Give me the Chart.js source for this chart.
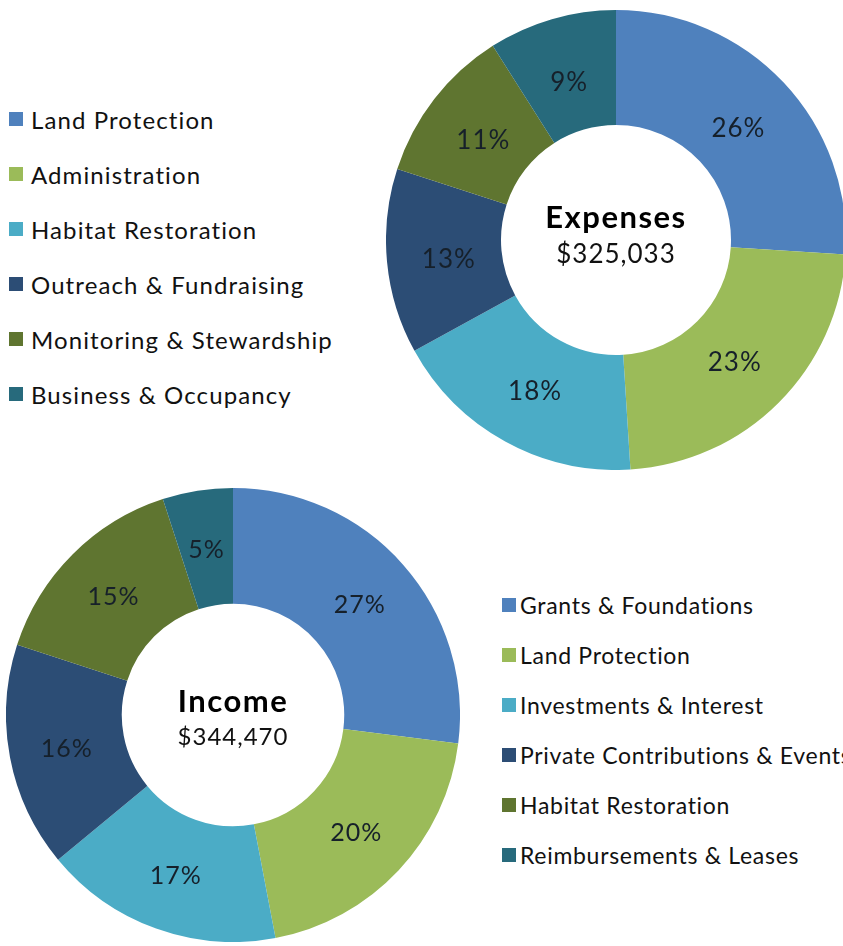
<!DOCTYPE html>
<html>
<head>
<meta charset="utf-8">
<script src="https://cdn.jsdelivr.net/npm/chart.js@4.4.1/dist/chart.umd.min.js"></script>
<style>
  html, body { margin:0; padding:0; width:843px; height:946px; overflow:hidden; background:#fff; }
  body { position:relative; font-family: Lato, "Open Sans", sans-serif; color:#111; }
  .box { position:absolute; }
  .legend { position:absolute; }
  .item { position:absolute; white-space:nowrap; display:flex; align-items:center; }
  .sw { display:inline-block; flex:none; }
</style>
</head>
<body>
<div class="box" id="expBox" style="left:386px;top:10px;width:460px;height:460px;"><canvas id="exp"></canvas></div>
<div class="box" id="incBox" style="left:6px;top:488px;width:454px;height:454px;"><canvas id="inc"></canvas></div>
<div class="legend" id="expLegend"></div>
<div class="legend" id="incLegend"></div>
<script>
// ---- data ----
const expenseCategories = ["Land Protection", "Administration", "Habitat Restoration", "Outreach & Fundraising", "Monitoring & Stewardship", "Business & Occupancy"];
const expenseValues = [26, 23, 18, 13, 11, 9];
const expenseTitle = "Expenses";
const expenseTotal = "$325,033";

const incomeCategories = ["Grants & Foundations", "Land Protection", "Investments & Interest", "Private Contributions & Events", "Habitat Restoration", "Reimbursements & Leases"];
const incomeValues = [27, 20, 17, 16, 15, 5];
const incomeTitle = "Income";
const incomeTotal = "$344,470";

const palette = ["#4F81BD", "#9BBB59", "#4BACC6", "#2C4D75", "#5F7530", "#276A7C"];

const FONT = "Lato, 'Open Sans', sans-serif";

// ---- plugins ----
const sliceLabels = {
  id: 'sliceLabels',
  afterDatasetsDraw(chart, args, opts) {
    const ctx = chart.ctx;
    const meta = chart.getDatasetMeta(0);
    const data = chart.data.datasets[0].data;
    ctx.save();
    ctx.font = opts.size + "px " + FONT;
    ctx.letterSpacing = opts.spacing + "px";
    ctx.fillStyle = "#16202a";
    ctx.textAlign = "center";
    ctx.textBaseline = "middle";
    meta.data.forEach((arc, i) => {
      const p = arc.getProps(['x','y','startAngle','endAngle','innerRadius','outerRadius'], true);
      const a = (p.startAngle + p.endAngle) / 2;
      const r = p.innerRadius + (p.outerRadius - p.innerRadius) * opts.frac;
      ctx.fillText(data[i] + "%", p.x + Math.cos(a) * r, p.y + Math.sin(a) * r + opts.dy);
    });
    ctx.restore();
  }
};
const centerText = {
  id: 'centerText',
  afterDraw(chart, args, opts) {
    const ctx = chart.ctx;
    const meta = chart.getDatasetMeta(0);
    const arc = meta.data[0];
    const cx = arc.x, cy = arc.y;
    ctx.save();
    ctx.textAlign = "center";
    ctx.textBaseline = "alphabetic";
    ctx.fillStyle = "#000";
    ctx.letterSpacing = "1.5px";
    ctx.font = "bold " + opts.titleSize + "px " + FONT;
    ctx.fillText(opts.title, cx, cy + opts.titleDy);
    ctx.fillStyle = "#111";
    ctx.letterSpacing = "1px";
    ctx.font = opts.subSize + "px " + FONT;
    ctx.fillText(opts.sub, cx, cy + opts.subDy);
    ctx.restore();
  }
};

function makeDonut(id, labels, values, cut, lblSize, frac, dy, center) {
  return new Chart(document.getElementById(id), {
    type: 'doughnut',
    data: { labels: labels, datasets: [{ data: values, backgroundColor: palette, borderWidth: 0 }] },
    options: {
      responsive: true, maintainAspectRatio: false, animation: false,
      cutout: cut,
      layout: { padding: 0 },
      plugins: {
        legend: { display: false }, tooltip: { enabled: false },
        sliceLabels: { size: lblSize, frac: frac, spacing: 1, dy: dy },
        centerText: center
      }
    },
    plugins: [sliceLabels, centerText]
  });
}

makeDonut('exp', expenseCategories, expenseValues, '50%', 26, 0.46, 4,
  { title: expenseTitle, sub: expenseTotal, titleSize: 31, subSize: 26, titleDy: -12, subDy: 23 });
makeDonut('inc', incomeCategories, incomeValues, '49%', 25, 0.5, 2,
  { title: incomeTitle, sub: incomeTotal, titleSize: 31, subSize: 24, titleDy: -3, subDy: 30 });

function buildLegend(elId, labels, left, top0, step, sq, gap, fontSize, spacing) {
  const el = document.getElementById(elId);
  labels.forEach((lab, i) => {
    const it = document.createElement('div');
    it.className = 'item';
    it.style.left = left + 'px';
    it.style.top = (top0 + step * i - 15) + 'px';
    it.style.height = '30px';
    it.style.fontSize = fontSize + 'px';
    it.style.letterSpacing = spacing + 'px';
    const sw = document.createElement('span');
    sw.className = 'sw';
    sw.style.width = sq + 'px'; sw.style.height = sq + 'px';
    sw.style.background = palette[i];
    sw.style.marginRight = gap + 'px';
    const tx = document.createElement('span');
    tx.textContent = lab;
    it.appendChild(sw); it.appendChild(tx);
    el.appendChild(it);
  });
}
buildLegend('expLegend', expenseCategories, 9, 119, 55, 14, 8, 24, 1.1);
buildLegend('incLegend', incomeCategories, 502, 605, 50, 14, 4, 23, 0.7);
</script>
</body>
</html>
